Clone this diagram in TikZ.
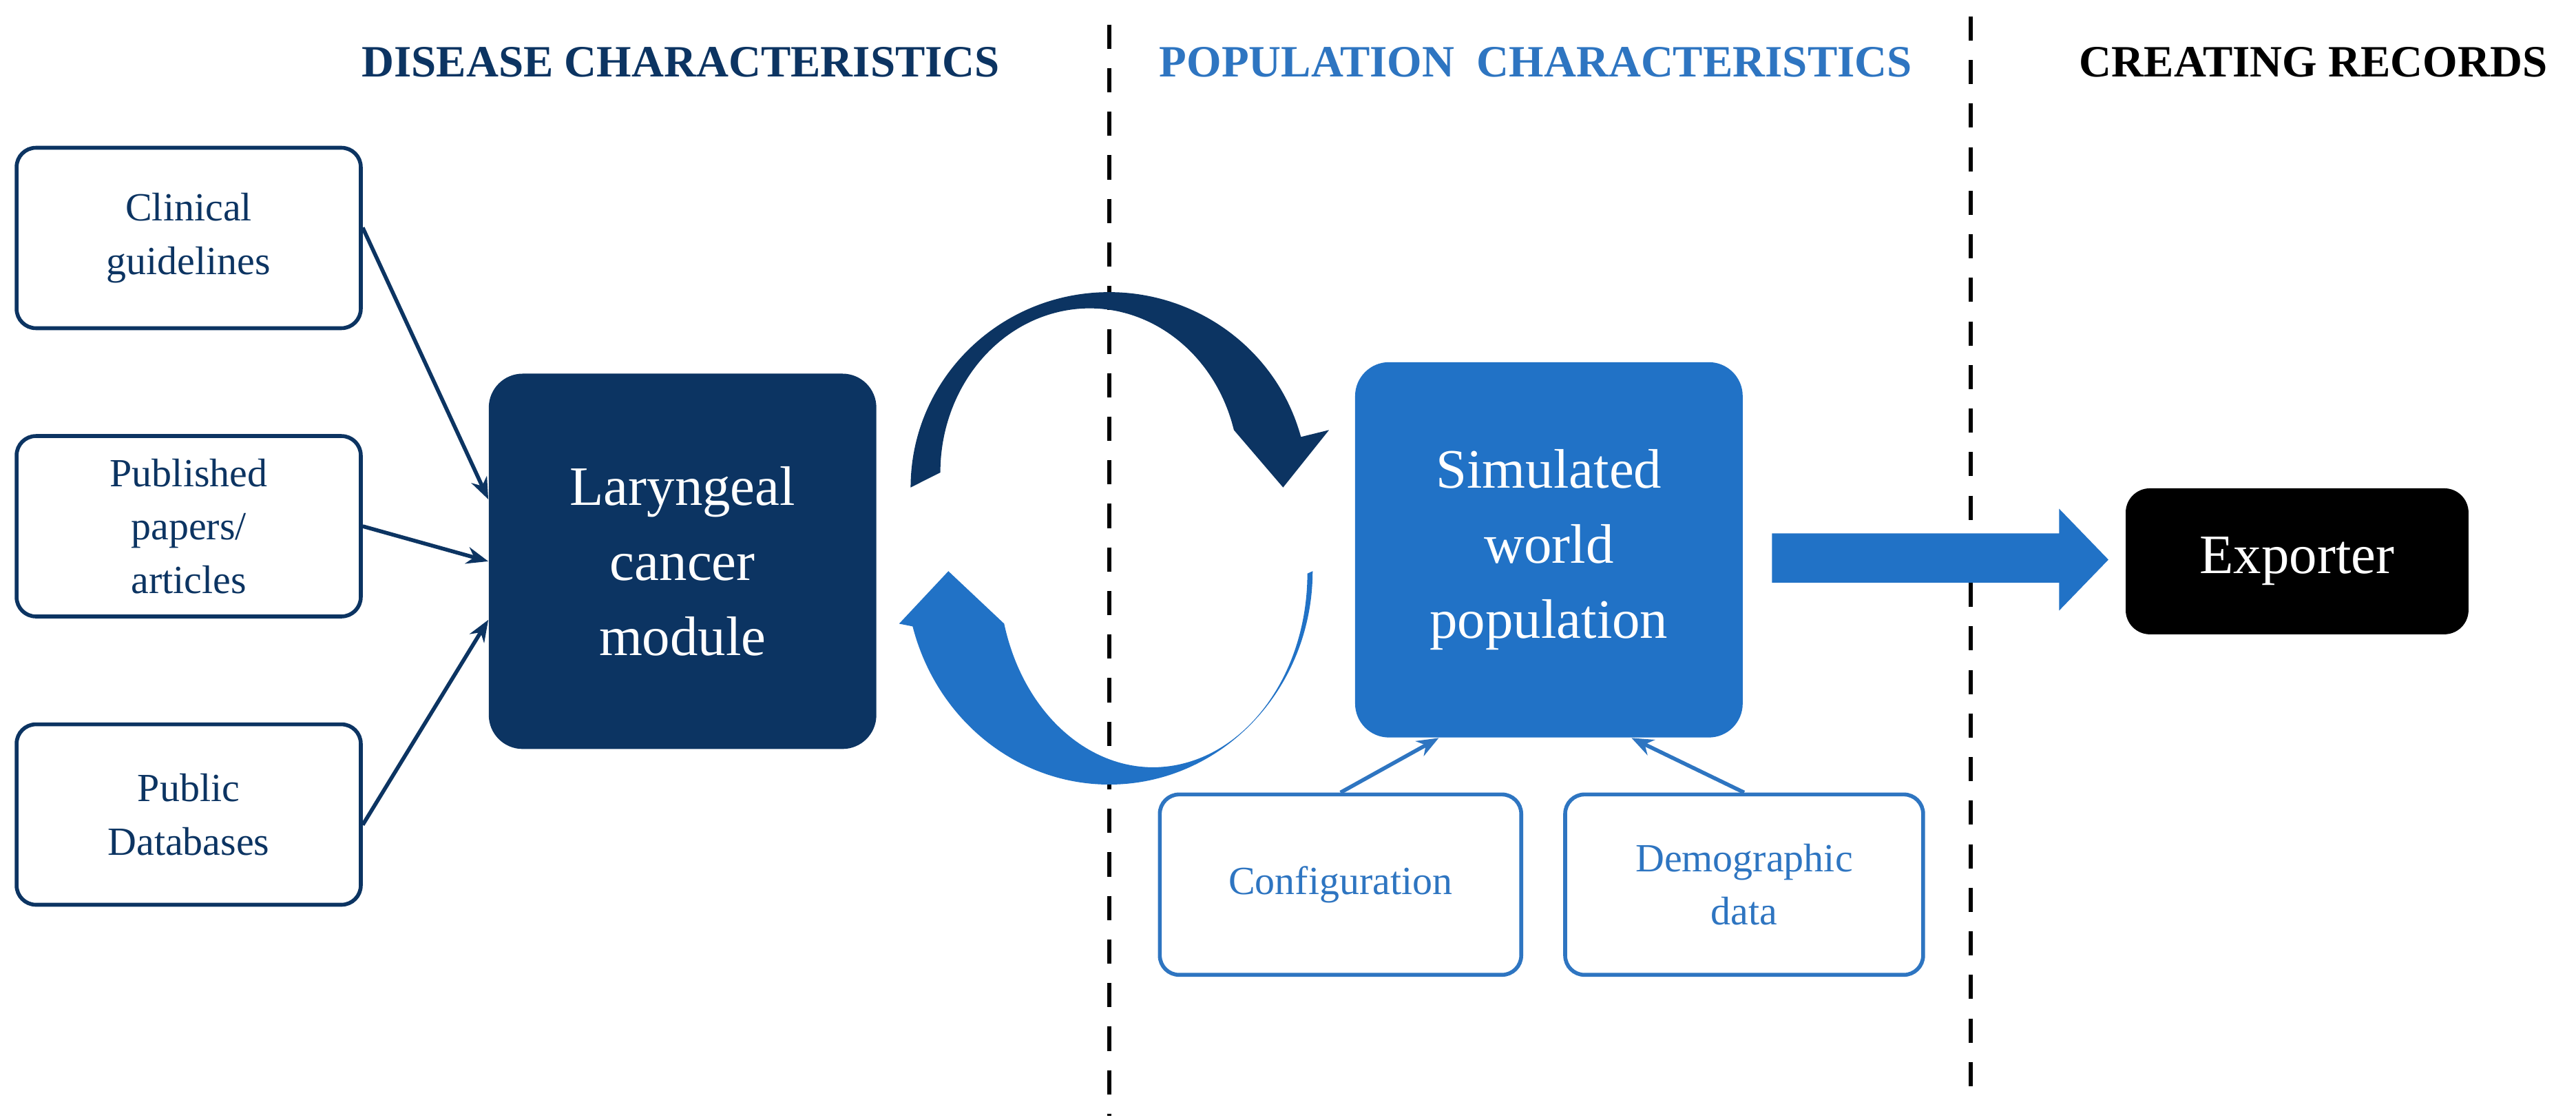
\documentclass[tikz,border=0pt]{standalone}
\usepackage{fontspec}
\setmainfont{Liberation Serif}
\usetikzlibrary{positioning,arrows.meta}
\definecolor{navy}{RGB}{12,52,98}
\definecolor{popblue}{RGB}{33,114,198}
\definecolor{lineblue}{RGB}{46,117,193}
\begin{document}
\begin{tikzpicture}[x=0.02383cm,y=0.02383cm,
  src node/.style={draw=navy,line width=1.6pt,rounded corners=8pt,fill=white,
    minimum width=5cm,minimum height=2.62cm,align=center,text=navy,
    font=\fontsize{16.5}{22}\selectfont},
  cfg node/.style={src node,draw=lineblue,text=lineblue,minimum width=5.25cm},
  main node/.style={rounded corners=14pt,align=center,text=white,
    minimum width=5.63cm,minimum height=5.45cm,font=\fontsize{23}{31}\selectfont},
  head/.style={font=\fontsize{18.5}{22}\selectfont\bfseries},
  thin arrow/.style={-{Stealth[length=9pt,width=7pt]},line width=1.6pt}]
  \useasboundingbox (0,0) rectangle (1570,682);

  % section titles and dividers
  \node[head,text=navy] (t1) at (415,644) {DISEASE CHARACTERISTICS};
  \node[head,text=lineblue] (t2) at (936,644) {POPULATION\ \ CHARACTERISTICS};
  \node[head] (t3) at (1410,644) {CREATING RECORDS};
  \draw[line width=1.6pt,dash pattern=on 10pt off 8pt] (676,667) -- (676,2);
  \draw[line width=1.6pt,dash pattern=on 10pt off 8pt] (1201,672) -- (1201,17);

  % sources
  \node[src node] (clin) at (115,537) {Clinical\\guidelines};
  \node[src node,below=1.51cm of clin] (pub) {Published\\papers/\\articles};
  \node[src node,below=1.51cm of pub] (db) {Public\\Databases};

  % modules
  \node[main node,fill=navy] (lar) at (416,340) {Laryngeal\\cancer\\module};
  \node[main node,fill=popblue] (sim) at (944,347) {Simulated\\world\\population};
  \node[main node,fill=black,minimum width=4.98cm,minimum height=2.12cm,
    rounded corners=10pt] (exp) at (1400,340) {Exporter};
  \node[cfg node] (conf) at (817,143) {Configuration};
  \node[cfg node,minimum width=5.2cm] (demo) at (1063,143) {Demographic\\data};

  \draw[thin arrow,navy] ([yshift=0.15cm]clin.east) -- ([yshift=0.9cm]lar.west);
  \draw[thin arrow,navy] (pub.east) -- (lar.west);
  \draw[thin arrow,navy] ([yshift=-0.15cm]db.east) -- ([yshift=-0.85cm]lar.west);
  \draw[thin arrow,lineblue] (conf.north) -- ([xshift=-1.6cm]sim.south);
  \draw[thin arrow,lineblue] (demo.north) -- ([xshift=1.2cm]sim.south);

  % exchange loop
  \fill[navy] (555,385) arc[start angle=180,end angle=15,x radius=121,y radius=119]
    -- (810,420) -- (782,385) -- (752,420)
    arc[start angle=15,end angle=180,x radius=91,y radius=100] -- cycle;
  \fill[popblue] (800,334) arc[start angle=0,end angle=-165,x radius=124,y radius=130]
    -- (548,302) -- (578,334) -- (612,302)
    arc[start angle=-165,end angle=0,x radius=94,y radius=118] -- cycle;

  % export arrow
  \fill[popblue] (1080,357) -- (1255,357) -- (1255,372) -- (1285,341)
    -- (1255,310) -- (1255,327) -- (1080,327) -- cycle;
\end{tikzpicture}
\end{document}
